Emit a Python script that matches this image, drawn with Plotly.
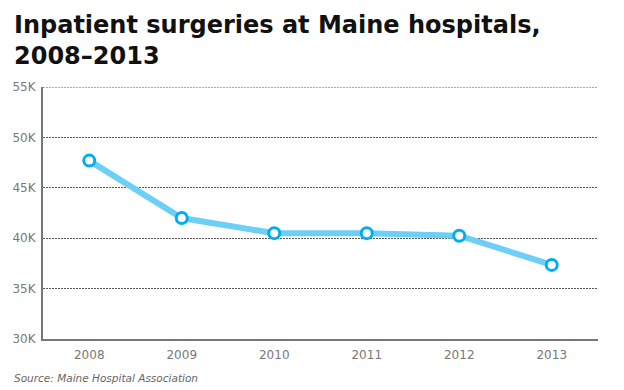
import plotly.graph_objects as go

years = ["2008", "2009", "2010", "2011", "2012", "2013"]
surgeries = [47700, 42000, 40500, 40500, 40250, 37350]
y_ticks = [30000, 35000, 40000, 45000, 50000, 55000]
y_tick_labels = ["30K", "35K", "40K", "45K", "50K", "55K"]

x_idx = list(range(len(years)))
FONT = "DejaVu Sans, Verdana, sans-serif"

fig = go.Figure()
fig.add_trace(go.Scatter(
    x=x_idx, y=surgeries, mode="lines+markers",
    line=dict(color="#6dcff6", width=6),
    marker=dict(size=11, color="white", line=dict(color="#00aeef", width=3)),
    hoverinfo="skip",
))

fig.update_layout(
    width=624, height=390,
    margin=dict(l=40, r=26, t=87, b=51),
    paper_bgcolor="white", plot_bgcolor="white",
    showlegend=False,
    font=dict(family=FONT, color="#777777", size=11),
    xaxis=dict(
        range=[-0.5, 5.5], tickvals=x_idx, ticktext=years,
        showgrid=False, zeroline=False,
        showline=True, linecolor="#777777", linewidth=2,
        ticks="", ticklabelstandoff=4,
        tickfont=dict(size=12, color="#777777"),
    ),
    yaxis=dict(
        range=[30000, 55000], tickvals=y_ticks, ticktext=y_tick_labels,
        showgrid=True, gridcolor="#555555", griddash="2px,1px", gridwidth=1,
        zeroline=False,
        showline=True, linecolor="#777777", linewidth=2,
        ticks="", ticklabelstandoff=3,
        tickfont=dict(size=12, color="#777777"),
    ),
)

# top gridline at 55K (plotly hides a gridline at the range edge)
fig.add_shape(
    type="line", xref="paper", yref="y", x0=0, x1=1, y0=55000, y1=55000,
    line=dict(color="#555555", width=1, dash="2px,1px"), layer="below",
)

fig.add_annotation(
    x=0, y=1, xref="paper", yref="paper", xanchor="left", yanchor="top",
    xshift=14 - 40 - 5, yshift=87 - 9,
    text="<b>Inpatient surgeries at Maine hospitals,<br>2008–2013</b>",
    showarrow=False, align="left",
    font=dict(family=FONT, size=24, color="#111111"),
)

fig.add_annotation(
    x=0, y=0, xref="paper", yref="paper", xanchor="left", yanchor="top",
    xshift=14 - 40 - 5, yshift=-31,
    text="<i>Source: Maine Hospital Association</i>",
    showarrow=False, align="left",
    font=dict(family=FONT, size=10.5, color="#666666"),
)

fig.write_html(
    "out.html",
    config={"displayModeBar": False},
    post_script="document.body.style.margin='0';",
)
